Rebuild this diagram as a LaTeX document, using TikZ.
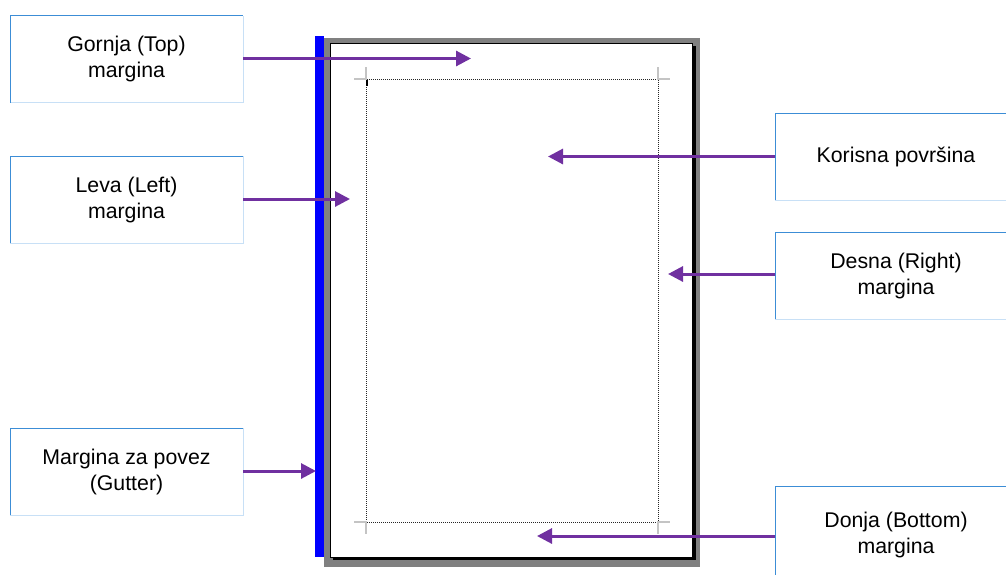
\documentclass[tikz,border=0pt]{standalone}
\usepackage{fontspec}
\setmainfont{Liberation Sans}
\usetikzlibrary{arrows.meta}
\definecolor{edgedark}{HTML}{3C8DD6}
\definecolor{edgelight}{HTML}{C8E0F6}
\definecolor{arrowpurple}{HTML}{7030A0}
\definecolor{framegray}{HTML}{808080}
\definecolor{markgray}{HTML}{C4C4C4}
\tikzset{
  callout/.style={minimum width=233pt, minimum height=87pt, inner sep=0pt, outer sep=0pt,
    align=center, font=\fontsize{21.3}{26}\selectfont},
  wide callout/.style={callout, minimum width=242pt},
  pointer/.style={draw=arrowpurple, line width=3pt, -{Triangle[length=15pt,width=15pt]}},
  cornermark/.style={draw=markgray, line width=1.2pt},
}
\begin{document}
\begin{tikzpicture}[x=1pt, y=-1pt]
\useasboundingbox (0,0) rectangle (1006,574);
\clip (0,0) rectangle (1006,574);

% gutter strip
\fill[blue] (315,36) rectangle (324,557);

% sheet with its frame and shadow
\fill[framegray] (324,38) rectangle (700,567);
\fill[black] (333,46) rectangle (696,560);
\filldraw[fill=white, draw=black, line width=1pt] (330,43) rectangle (692,557);

% printable area
\draw[densely dotted, draw=black!85, line width=1pt] (366,79) rectangle (658,522);
\draw[cornermark] (354,79) -- (366,79) -- (366,67);
\draw[cornermark] (658,67) -- (658,79) -- (670,79);
\draw[cornermark] (354,522) -- (366,522) -- (366,534);
\draw[cornermark] (658,534) -- (658,522) -- (670,522);
\fill[black] (366,80) rectangle (368,86);

% labels
\node[callout] (top)   at (126.5,59) {Gornja (Top)\\margina};
\node[callout] (left)  at (126.5,199.5)  {Leva (Left)\\margina};
\node[callout] (gut)   at (126.5,471.5)  {Margina za povez\\(Gutter)};
\node[wide callout] (use)   at (896,156.5)  {Korisna površina};
\node[wide callout] (right) at (896,275.5)  {Desna (Right)\\margina};
\node[wide callout, minimum height=98pt] (bot) at (896,535) {Donja (Bottom)\\margina};

\foreach \n in {top,left,gut,use,right,bot}{
  \draw[edgelight, line width=1pt] (\n.south west) -- (\n.south east) -- (\n.north east);
  \draw[edgedark, line width=1pt] (\n.south west) -- (\n.north west) -- (\n.north east);
}

% arrow targets
\coordinate (ttop)   at (471,58.5);
\coordinate (tleft)  at (350,199);
\coordinate (tgut)   at (316,471);
\coordinate (tuse)   at (548,156.5);
\coordinate (tright) at (668,274);
\coordinate (tbot)   at (537,536);

\draw[pointer] (top.east |- ttop) -- (ttop);
\draw[pointer] (left.east |- tleft) -- (tleft);
\draw[pointer] (gut.east |- tgut) -- (tgut);
\draw[pointer] (use.west |- tuse) -- (tuse);
\draw[pointer] (right.west |- tright) -- (tright);
\draw[pointer] (bot.west |- tbot) -- (tbot);
\end{tikzpicture}
\end{document}
